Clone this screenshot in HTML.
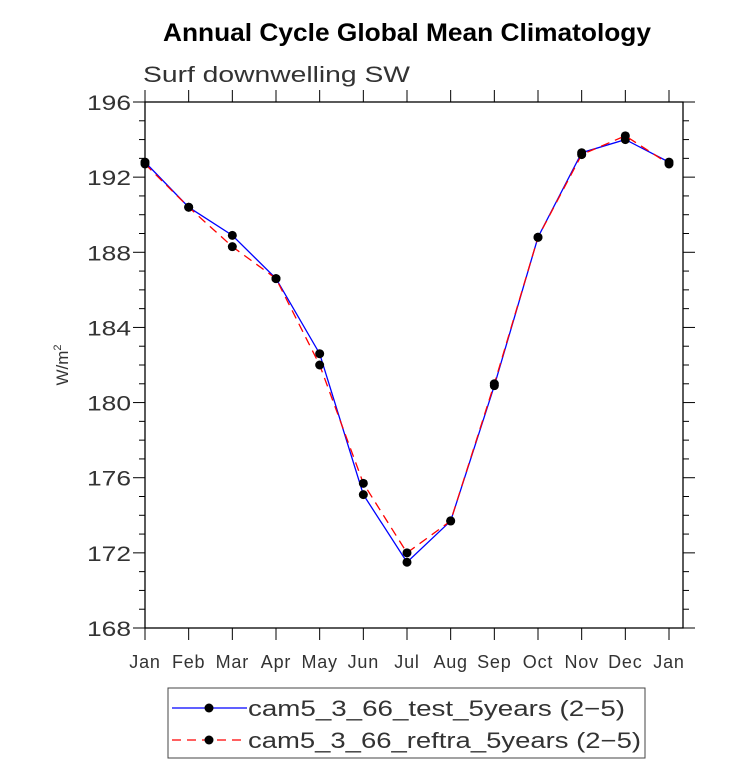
<!DOCTYPE html>
<html><head><meta charset="utf-8"><style>
body{margin:0;background:#fff;width:733px;height:764px;overflow:hidden}
svg{font-family:"Liberation Sans",sans-serif}
</style></head><body>
<svg id="chart" width="733" height="764" xmlns="http://www.w3.org/2000/svg">
<text x="163" y="41" font-size="25" font-weight="bold" textLength="488" lengthAdjust="spacingAndGlyphs">Annual Cycle Global Mean Climatology</text>
<text x="143" y="82" font-size="22" fill="#333" textLength="267" lengthAdjust="spacingAndGlyphs">Surf downwelling SW</text>
<text transform="translate(68,365) rotate(-90)" text-anchor="middle" font-size="17" fill="#333">W/m<tspan font-size="11" dy="-7">2</tspan></text>
<g id="axes"></g>
<g id="series"></g>
<g>
<rect x="168" y="688" width="477" height="70" fill="none" stroke="#444" stroke-width="1"/>
<line x1="172" y1="708" x2="247" y2="708" stroke="#00f" stroke-width="1.3"/>
<circle cx="209" cy="708" r="4.5"/>
<text x="248" y="716" font-size="22" fill="#333" textLength="377" lengthAdjust="spacingAndGlyphs">cam5_3_66_test_5years (2−5)</text>
<line x1="172" y1="740" x2="247" y2="740" stroke="#f00" stroke-width="1.3" stroke-dasharray="9,6"/>
<circle cx="209" cy="740" r="4.5"/>
<text x="248" y="748" font-size="22" fill="#333" textLength="393" lengthAdjust="spacingAndGlyphs">cam5_3_66_reftra_5years (2−5)</text>
</g>
</svg>
<script>
const months=["Jan","Feb","Mar","Apr","May","Jun","Jul","Aug","Sep","Oct","Nov","Dec","Jan"];
const testVals=[192.8,190.4,188.9,186.6,182.6,175.1,171.5,173.7,180.9,188.8,193.3,194.0,192.8];
const refVals=[192.7,190.4,188.3,186.6,182.0,175.7,172.0,173.7,181.0,188.8,193.2,194.2,192.7];
const yTicks=[168,172,176,180,184,188,192,196];
const NS="http://www.w3.org/2000/svg";
const L=145,R=683,T=102,B=628,yMin=168,yMax=196;
const xs=i=>L+i*(669-L)/12;
const ys=v=>B-(v-yMin)/(yMax-yMin)*(B-T);
function mk(tag,attrs,parent){const e=document.createElementNS(NS,tag);for(const k in attrs)e.setAttribute(k,attrs[k]);parent.appendChild(e);return e;}
const ax=document.getElementById('axes');
const frame=mk('rect',{x:L,y:T,width:R-L,height:B-T,fill:'none',stroke:'#000','stroke-width':1.3},ax);


yTicks.forEach((v,i)=>{
  const y=ys(v);
  mk('line',{x1:L-12,y1:y,x2:L,y2:y,stroke:'#000'},ax);
  mk('line',{x1:R,y1:y,x2:R+12,y2:y,stroke:'#000'},ax);
  const t=mk('text',{x:L-14,y:y+8,'text-anchor':'end','font-size':21,fill:'#333',textLength:44,lengthAdjust:'spacingAndGlyphs'},ax);
  
  
  t.textContent=v;
  if(i<yTicks.length-1){for(let m=1;m<4;m++){const yy=ys(v+m);mk('line',{x1:L-6,y1:yy,x2:L,y2:yy,stroke:'#000'},ax);mk('line',{x1:R,y1:yy,x2:R+6,y2:yy,stroke:'#000'},ax);}}
});
months.forEach((m,i)=>{
  const x=xs(i);
  mk('line',{x1:x,y1:B,x2:x,y2:B+12,stroke:'#000'},ax);
  mk('line',{x1:x,y1:T-12,x2:x,y2:T,stroke:'#000'},ax);
  const t=mk('text',{x:x,y:B+40,'text-anchor':'middle','font-size':18,fill:'#333','letter-spacing':'0.8'},ax);
  
  
  t.textContent=m;
});
const sg=document.getElementById('series');
function series(vals,color,dash,name){
  const p=mk('polyline',{points:vals.map((v,i)=>xs(i)+','+ys(v)).join(' '),fill:'none',stroke:color,'stroke-width':1.3,'stroke-dasharray':dash},sg);
  
  
  vals.forEach((v,i)=>{const c=mk('circle',{cx:xs(i),cy:ys(v),r:4.5,fill:'#000'},sg);
    
    });
}
series(testVals,'#00f','none','test');
series(refVals,'#f00','9,6','ref');
</script>
</body></html>
